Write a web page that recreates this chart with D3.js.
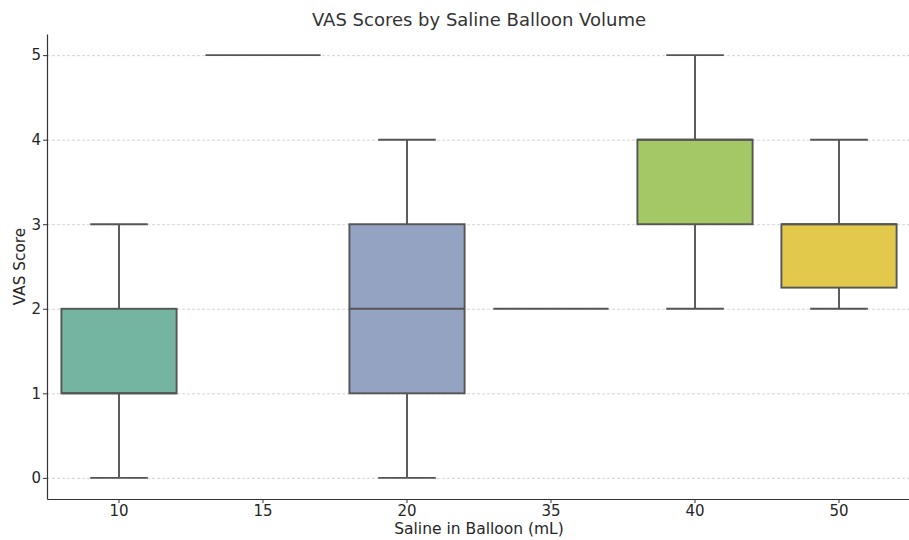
<!DOCTYPE html>
<html>
<head>
<meta charset="utf-8">
<script src="https://cdn.jsdelivr.net/npm/d3@7"></script>
<style>
	body { margin: 0; background: #fff; }
	svg { font-family: "DejaVu Sans", sans-serif; }
	.grid line { stroke: #cccccc; stroke-dasharray: 3 2; stroke-width: 0.8; }
	.grid .domain { display: none; }
</style>
</head>
<body>
<svg id="boxplot" width="909" height="540"></svg>
<script>
// box statistics per saline volume
const volumes = ["10", "15", "20", "35", "40", "50"];
const whiskerLow = [0, 5, 0, 2, 2, 2];
const q1 = [1, 5, 1, 2, 3, 2.25];
const median = [1, 5, 2, 2, 4, 3];
const q3 = [2, 5, 3, 2, 4, 3];
const whiskerHigh = [3, 5, 4, 2, 5, 4];
const boxColors = ["#73b5a0", "#e5997a", "#95a3c3", "#d596bd", "#a3c865", "#e3c94b"];
const yTicks = [0, 1, 2, 3, 4, 5];

class Boxplot {
	constructor() {
		this.svg = d3.select("svg#boxplot");
		this.bounds = {
			minX: 47,
			maxX: 911,
			minY: 34,
			maxY: 499,
		};
		this.rows = volumes.map((v, i) => ({
			volume: v,
			lo: whiskerLow[i],
			q1: q1[i],
			med: median[i],
			q3: q3[i],
			hi: whiskerHigh[i],
			color: boxColors[i],
		}));

		this.scaleX = d3.scaleBand().domain(volumes)
			.range([this.bounds.minX, this.bounds.maxX]).paddingInner(0.2).paddingOuter(0.1);
		this.scaleY = d3.scaleLinear().domain([-0.25, 5.25])
			.range([this.bounds.maxY, this.bounds.minY]);

		this.drawGrid();
		this.drawBoxes();
		this.drawAxes();
		this.drawLabels();
	}

	drawGrid() {
		this.svg.append("g")
			.attr("class", "grid")
			.attr("transform", `translate(${this.bounds.minX} 0)`)
			.call(d3.axisLeft(this.scaleY).tickValues(yTicks)
				.tickSize(-(this.bounds.maxX - this.bounds.minX)).tickFormat(""));
	}

	drawBoxes() {
		let x = this.scaleX, y = this.scaleY;
		let bw = x.bandwidth();
		let stroke = "#555555", sw = 1.9;
		let groups = this.svg.append("g").selectAll("g")
			.data(this.rows)
			.join("g")
			.attr("transform", d => `translate(${x(d.volume)} 0)`);

		// whiskers
		groups.selectAll("line.whisker")
			.data(d => [[d.lo, d.q1], [d.q3, d.hi]].filter(p => p[0] != p[1]))
			.join("line")
			.attr("x1", bw / 2).attr("x2", bw / 2)
			.attr("y1", p => y(p[0])).attr("y2", p => y(p[1]))
			.attr("stroke", stroke).attr("stroke-width", sw);

		// caps
		groups.selectAll("line.cap")
			.data(d => d.lo == d.hi ? [] : [d.lo, d.hi])
			.join("line")
			.attr("x1", bw / 4).attr("x2", bw * 3 / 4)
			.attr("y1", v => y(v)).attr("y2", v => y(v))
			.attr("stroke", stroke).attr("stroke-width", sw);

		groups.append("rect")
			.attr("x", 0)
			.attr("width", bw)
			.attr("y", d => y(d.q3))
			.attr("height", d => y(d.q1) - y(d.q3))
			.attr("fill", d => d.color)
			.attr("stroke", stroke)
			.attr("stroke-width", sw);

		groups.append("line")
			.attr("x1", 0).attr("x2", bw)
			.attr("y1", d => y(d.med)).attr("y2", d => y(d.med))
			.attr("stroke", stroke).attr("stroke-width", sw);
	}

	drawAxes() {
		let xAxis = this.svg.append("g")
			.attr("transform", `translate(0 ${this.bounds.maxY})`)
			.call(d3.axisBottom(this.scaleX).tickSize(4).tickPadding(2.5).tickSizeOuter(0));
		let yAxis = this.svg.append("g")
			.attr("transform", `translate(${this.bounds.minX} 0)`)
			.call(d3.axisLeft(this.scaleY).tickValues(yTicks).tickFormat(d3.format("d"))
				.tickSize(4).tickPadding(2).tickSizeOuter(0));

		for (let g of [xAxis, yAxis]) {
			g.attr("font-size", 15).attr("font-family", "DejaVu Sans, sans-serif");
			g.select(".domain").attr("stroke", "#333333").attr("stroke-width", 1.2);
			g.selectAll(".tick line").attr("stroke", "#333333");
			g.selectAll(".tick text").attr("fill", "#262626");
		}
	}

	drawLabels() {
		let midX = (this.bounds.minX + this.bounds.maxX) / 2;
		this.svg.append("text")
			.attr("x", midX).attr("y", 26)
			.attr("text-anchor", "middle")
			.attr("fill", "#333333")
			.attr("font-size", 18)
			.text("VAS Scores by Saline Balloon Volume");

		this.svg.append("text")
			.attr("x", midX).attr("y", 534)
			.attr("text-anchor", "middle")
			.attr("fill", "#262626")
			.attr("font-size", 15.5)
			.text("Saline in Balloon (mL)");

		this.svg.append("text")
			.attr("transform", `translate(25 ${(this.bounds.minY + this.bounds.maxY) / 2}) rotate(-90)`)
			.attr("text-anchor", "middle")
			.attr("fill", "#262626")
			.attr("font-size", 15.3)
			.text("VAS Score");
	}
}

new Boxplot();
</script>
</body>
</html>
